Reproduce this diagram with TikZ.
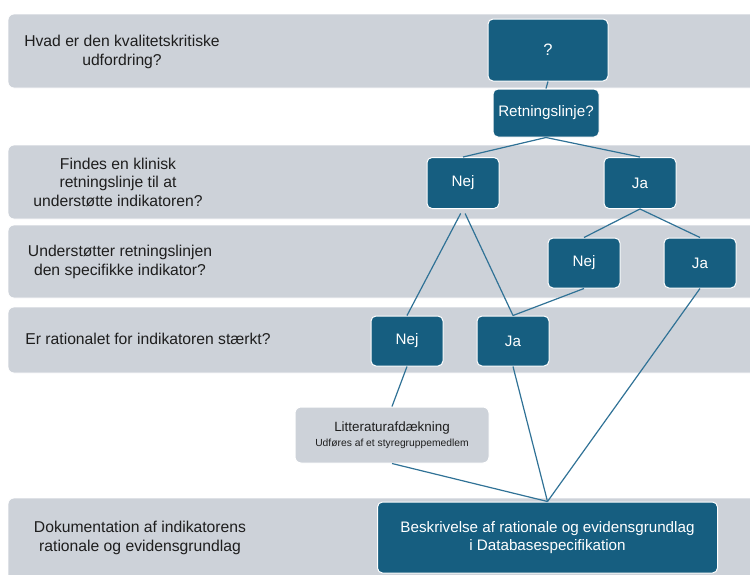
\documentclass[tikz,border=0pt]{standalone}
\usepackage{fontspec}
\setmainfont{Liberation Sans}
\definecolor{bandgray}{RGB}{205,210,217}
\definecolor{boxblue}{RGB}{22,94,128}
\definecolor{linkblue}{RGB}{48,114,150}
\definecolor{txtdark}{RGB}{30,30,30}
\begin{document}
\begin{tikzpicture}[x=1pt,y=-1pt,
  band/.style={fill=bandgray,draw=white,line width=0.8pt,rounded corners=6pt},
  bandtext/.style={text=txtdark,align=center,font=\fontsize{15.7}{18.5}\selectfont,inner sep=0pt},
  bluebox/.style={fill=boxblue,draw=white,line width=1pt,rounded corners=5pt,text=white,align=center,inner sep=0pt,font=\fontsize{15.2}{18}\selectfont},
  graybox/.style={fill=bandgray,draw=white,line width=1pt,rounded corners=6pt,text=txtdark,align=center,inner sep=0pt},
  link/.style={draw=linkblue,line width=1.2pt}
]
\useasboundingbox (0,0) rectangle (750,574);
\clip (0,0) rectangle (750,574);
% bands
\path[band] (8,14) rectangle (770,88);
\path[band] (8,145) rectangle (770,219);
\path[band] (8,225) rectangle (770,298);
\path[band] (8,307) rectangle (770,373);
\path[band] (8,498) rectangle (770,600);
% band texts
\node[bandtext] (t1) at (122,52) {Hvad er den kvalitetskritiske\\udfordring?};
\node[bandtext] (t2) at (118,182) {Findes en klinisk\\retningslinje til at\\understøtte indikatoren?};
\node[bandtext] (t3) at (120,262) {Understøtter retningslinjen\\den specifikke indikator?};
\node[bandtext] (t4) at (148,339) {Er rationalet for indikatoren stærkt?};
\node[bandtext] (t5) at (140,538) {Dokumentation af indikatorens\\rationale og evidensgrundlag};
% boxes
\node[bluebox,minimum width=120pt,minimum height=62pt,font=\fontsize{16.5}{18}\selectfont] (q) at (548,50) {?};
\node[bluebox,minimum width=106pt,minimum height=48pt] (ret) at (546,113) {Retningslinje?};
\node[bluebox,minimum width=72pt,minimum height=51pt] (nej2) at (463,183) {Nej};
\node[bluebox,minimum width=72pt,minimum height=51pt] (ja2) at (640,183) {Ja};
\node[bluebox,minimum width=72pt,minimum height=50pt] (nej3) at (584,263) {Nej};
\node[bluebox,minimum width=72pt,minimum height=50pt] (ja3) at (700,263) {Ja};
\node[bluebox,minimum width=72pt,minimum height=50pt] (nej4) at (407,341) {Nej};
\node[bluebox,minimum width=72pt,minimum height=50pt] (ja4) at (513,341) {Ja};
\node[graybox,minimum width=194pt,minimum height=56pt] (lit) at (392,435)
  {{\fontsize{13.4}{16}\selectfont Litteraturafdækning}\\[3pt]{\fontsize{10.3}{12}\selectfont Udføres af et styregruppemedlem}};
\node[bluebox,minimum width=340pt,minimum height=71pt] (besk) at (547.5,537.5)
  {Beskrivelse af rationale og evidensgrundlag\\i Databasespecifikation};
% connectors
\draw[link] (q.south) -- (ret.north);
\draw[link] (ret.south) -- (nej2.north);
\draw[link] (ret.south) -- (ja2.north);
\draw[link,shorten <=5pt] (nej2.south) -- (nej4.north);
\draw[link,shorten <=5pt] (nej2.south) -- (ja4.north);
\draw[link] (ja2.south) -- (nej3.north);
\draw[link] (ja2.south) -- (ja3.north);
\draw[link] (nej3.south) -- (ja4.north);
\draw[link] (ja3.south) -- (besk.north);
\draw[link] (nej4.south) -- (lit.north);
\draw[link] (ja4.south) -- (besk.north);
\draw[link] (lit.south) -- (besk.north);
\end{tikzpicture}
\end{document}
